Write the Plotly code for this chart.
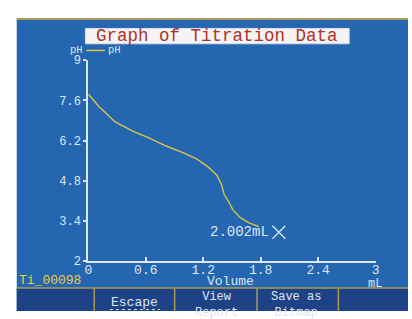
import plotly.graph_objects as go

# ---- data ----
volume_ml = [0.0, 0.05, 0.11, 0.18, 0.28, 0.38, 0.48, 0.62, 0.82, 1.0, 1.13, 1.25,
             1.34, 1.39, 1.42, 1.46, 1.51, 1.59, 1.68, 1.78]
ph_values = [7.82, 7.62, 7.39, 7.17, 6.85, 6.68, 6.5, 6.31, 6.0, 5.76, 5.56, 5.28,
             5.0, 4.67, 4.3, 4.1, 3.78, 3.5, 3.33, 3.2]
endpoint_volume = [1.99]
endpoint_ph = [3.0]
endpoint_label = "2.002mL"
x_ticks = [0, 0.6, 1.2, 1.8, 2.4, 3]
x_tick_text = ["0", "0.6", "1.2", "1.8", "2.4", "3"]
y_ticks = [2, 3.4, 4.8, 6.2, 7.6, 9]
y_tick_text = ["2", "3.4", "4.8", "6.2", "7.6", "9"]
button_labels = ["Escape", "View<br>Report", "Save as<br>Bitmap"]

W, H = 412, 319
BLUE = "#2566b0"
DARK = "#1d4286"
OLIVE = "#a89c58"
LIGHT = "#dde7f3"
YELLOW = "#d9c34a"
MONO = "Liberation Mono"


def px(x):
    return x / W


def py(y):
    return 1 - y / H


fig = go.Figure()
fig.add_trace(go.Scatter(x=volume_ml, y=ph_values, mode="lines", name="pH",
                         line=dict(color=YELLOW, width=1.4), showlegend=False))
fig.add_trace(go.Scatter(x=endpoint_volume, y=endpoint_ph, mode="markers",
                         marker=dict(symbol="x-thin", size=13,
                                     line=dict(color=LIGHT, width=1.3)),
                         showlegend=False))

shapes = [
    dict(type="rect", xref="paper", yref="paper", x0=px(13), x1=1, y0=0, y1=py(13),
         fillcolor=BLUE, line=dict(width=0), layer="below"),
    dict(type="line", xref="paper", yref="paper", x0=px(13), x1=1, y0=py(13.5), y1=py(13.5),
         line=dict(color=OLIVE, width=2), layer="below"),
    dict(type="rect", xref="paper", yref="paper", x0=px(13), x1=1, y0=0, y1=py(295),
         fillcolor=DARK, line=dict(width=0), layer="below"),
    dict(type="line", xref="paper", yref="paper", x0=px(13), x1=1, y0=py(295), y1=py(295),
         line=dict(color=OLIVE, width=1.5), layer="below"),
    # title box
    dict(type="rect", xref="paper", yref="paper", x0=px(83), x1=px(352), y0=py(39.5), y1=py(23.5),
         fillcolor="#f4f4f4", line=dict(color="#dcdce6", width=1), layer="below"),
    # legend sample line
    dict(type="line", xref="paper", yref="paper", x0=px(84), x1=px(103), y0=py(46.5), y1=py(46.5),
         line=dict(color=YELLOW, width=1.5)),
    # dotted underline of Escape
    dict(type="line", xref="paper", yref="paper", x0=px(108), x1=px(159), y0=py(317.5), y1=py(317.5),
         line=dict(color=LIGHT, width=1, dash="dot")),
]
for sx in [92, 174, 258, 341]:
    shapes.append(dict(type="line", xref="paper", yref="paper", x0=px(sx), x1=px(sx),
                       y0=0, y1=py(295), line=dict(color=OLIVE, width=1.5), layer="below"))


def txt(text, x, y, size, color=LIGHT, anchor="center"):
    return dict(text=text, xref="paper", yref="paper", x=px(x), y=py(y), xanchor=anchor,
                yanchor="middle", showarrow=False, font=dict(family=MONO, size=size, color=color))


annotations = [
    txt("Graph of Titration Data", 217.5, 31, 17.5, color="#b0302a"),
    txt("pH", 65, 46, 10.5, anchor="left"),
    txt("pH", 104, 46, 10.5, anchor="left"),
    dict(text=endpoint_label, x=1.905, y=endpoint_ph[0], xref="x", yref="y", xanchor="right",
         yanchor="middle", showarrow=False, font=dict(family=MONO, size=14, color=LIGHT)),
    txt("Volume", 231, 288.5, 13),
    txt("mL", 378, 291, 12),
    txt("Ti_00098", 13, 287, 13, color="#e6cf3c", anchor="left"),
    txt(button_labels[0], 133, 310, 13),
    txt(button_labels[1], 216.5, 312.5, 12),
    txt(button_labels[2], 298, 312.5, 12),
]

axis_common = dict(showgrid=False, zeroline=False, showline=True, linecolor=LIGHT,
                   linewidth=2, tickcolor=LIGHT, tickwidth=2, fixedrange=True)

fig.update_layout(
    width=W, height=H, margin=dict(l=0, r=0, t=0, b=0),
    paper_bgcolor="white", plot_bgcolor="rgba(0,0,0,0)",
    shapes=shapes, annotations=annotations, showlegend=False,
    xaxis=dict(range=[0, 3], domain=[px(86), px(379)], tickvals=x_ticks,
               ticktext=x_tick_text, ticks="inside", ticklen=4, ticklabelstandoff=-5,
               tickfont=dict(family=MONO, size=13, color=LIGHT), **axis_common),
    yaxis=dict(range=[2, 9], domain=[py(266.7), py(56.7)], tickvals=y_ticks,
               ticktext=y_tick_text, ticks="outside", ticklen=3,
               tickfont=dict(family=MONO, size=12, color=LIGHT), **axis_common),
)

fig.write_html("out.html", config={"displayModeBar": False},
               post_script="document.body.style.margin='0';document.body.style.overflow='hidden';")
